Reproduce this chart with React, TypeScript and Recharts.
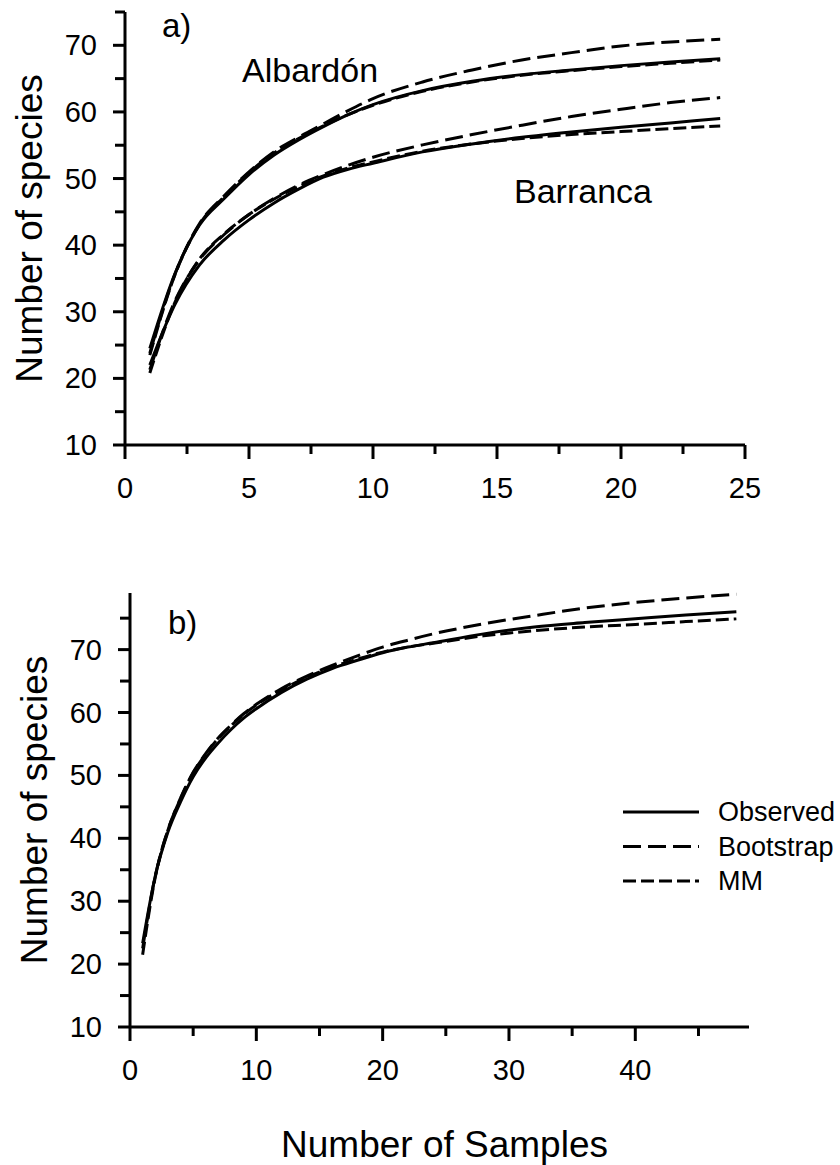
import React from "react";
import { LineChart, Line, XAxis, YAxis, Legend, Label } from "recharts";

// panel a) – two sites, samples 1..24
const samplesA = [1, 2, 3, 4, 5, 6, 7, 8, 9, 10, 12, 14, 16, 18, 20, 22, 24];
const albObserved = [24.5, 35.6, 43.0, 47.0, 50.6, 53.5, 55.8, 57.8, 59.6, 61.1, 63.2, 64.6, 65.6, 66.3, 66.95, 67.5, 68.0];
const albBootstrap = [23.8, 35.5, 43.2, 47.4, 51.0, 54.0, 56.2, 58.2, 60.2, 62.0, 64.5, 66.3, 67.8, 68.9, 69.9, 70.5, 70.9];
const albMM = [23.5, 35.4, 43.1, 47.3, 50.9, 53.8, 56.0, 57.9, 59.6, 61.0, 63.1, 64.5, 65.5, 66.2, 66.8, 67.3, 67.8];
const barObserved = [22.0, 31.0, 37.0, 40.8, 43.8, 46.3, 48.4, 50.2, 51.4, 52.3, 54.0, 55.2, 56.2, 57.0, 57.7, 58.35, 59.0];
const barBootstrap = [21.3, 31.5, 37.8, 41.6, 44.6, 47.0, 49.0, 50.6, 52.0, 53.2, 55.05, 56.6, 58.0, 59.3, 60.4, 61.4, 62.15];
const barMM = [20.8, 31.3, 37.9, 41.7, 44.6, 46.9, 48.8, 50.4, 51.6, 52.5, 54.1, 55.2, 56.0, 56.6, 57.05, 57.5, 57.9];

// panel b) – pooled, samples 1..48
const samplesB = [1, 2, 3, 4, 5, 6, 7, 8, 9, 10, 12, 14, 16, 18, 20, 22, 24, 28, 32, 36, 40, 44, 48];
const allObserved = [23.3, 34.0, 41.0, 45.8, 49.8, 52.8, 55.2, 57.3, 59.1, 60.6, 63.2, 65.3, 67.0, 68.3, 69.5, 70.4, 71.1, 72.5, 73.6, 74.3, 74.9, 75.5, 76.0];
const allBootstrap = [22.5, 34.0, 41.3, 46.4, 50.5, 53.5, 56.0, 58.0, 59.8, 61.3, 63.8, 65.8, 67.5, 69.0, 70.4, 71.5, 72.5, 74.1, 75.4, 76.6, 77.5, 78.2, 78.8];
const allMM = [21.5, 33.8, 41.3, 46.3, 50.4, 53.4, 55.9, 57.9, 59.7, 61.2, 63.6, 65.6, 67.2, 68.5, 69.6, 70.4, 71.0, 72.2, 73.0, 73.6, 74.0, 74.45, 74.9];

const yTicks = [10, 15, 20, 25, 30, 35, 40, 45, 50, 55, 60, 65, 70, 75];
const xTicksA = [0, 2.5, 5, 7.5, 10, 12.5, 15, 17.5, 20, 22.5, 25];
const xTicksB = [0, 5, 10, 15, 20, 25, 30, 35, 40, 45];

const FONT = "'Liberation Sans', Arial, Helvetica, sans-serif";
const OBS_DASH = undefined;
const BOOT_DASH = "18 7";
const MM_DASH = "13 5";

const legendItems = [
  { name: "Observed", dash: OBS_DASH },
  { name: "Bootstrap", dash: BOOT_DASH },
  { name: "MM", dash: MM_DASH },
];

const dataA = samplesA.map((s, i) => ({
  s,
  albObserved: albObserved[i],
  albBootstrap: albBootstrap[i],
  albMM: albMM[i],
  barObserved: barObserved[i],
  barBootstrap: barBootstrap[i],
  barMM: barMM[i],
}));

const dataB = samplesB.map((s, i) => ({
  s,
  observed: allObserved[i],
  bootstrap: allBootstrap[i],
  mm: allMM[i],
}));

const YTick = (props: any) => {
  const { x, y, payload } = props;
  const major = payload.value % 10 === 0;
  return (
    <g>
      <line x1={x - (major ? 12 : 10)} x2={x} y1={y} y2={y} stroke="#000" strokeWidth={3} />
      {major && (
        <text x={x - 28} y={y} textAnchor="end" dominantBaseline="central" fontSize={29} fontFamily={FONT} fill="#000">
          {payload.value}
        </text>
      )}
    </g>
  );
};

const makeXTick = (step: number) => (props: any) => {
  const { x, y, payload } = props;
  const major = payload.value % step === 0;
  return (
    <g>
      <line x1={x} x2={x} y1={y} y2={y + (major ? 14 : 9)} stroke="#000" strokeWidth={3} />
      {major && (
        <text x={x} y={y + 53} textAnchor="middle" fontSize={29} fontFamily={FONT} fill="#000">
          {payload.value}
        </text>
      )}
    </g>
  );
};

const YTitle = (props: any) => {
  const vb = props.viewBox;
  const x = vb.x - 23;
  const y = vb.y + vb.height / 2;
  return (
    <text x={x} y={y} transform={`rotate(-90 ${x} ${y})`} textAnchor="middle" fontSize={37} fontFamily={FONT} fill="#000">
      Number of species
    </text>
  );
};

const XTitle = (props: any) => {
  const vb = props.viewBox;
  const x = vb.x + vb.width / 2 + 5;
  return (
    <text x={x} y={vb.y + 130} textAnchor="middle" fontSize={37} fontFamily={FONT} fill="#000">
      Number of Samples
    </text>
  );
};

const LegendBox = () => (
  <svg width={220} height={110} style={{ display: "block" }}>
    {legendItems.map((it, i) => {
      const y = 17 + i * 34.5;
      return (
        <g key={it.name}>
          <line x1={3} x2={79} y1={y} y2={y} stroke="#000" strokeWidth={3} strokeDasharray={it.dash} />
          <text x={98} y={y} dominantBaseline="central" fontSize={27} fontFamily={FONT} fill="#000">
            {it.name}
          </text>
        </g>
      );
    })}
  </svg>
);

const axisLine = { stroke: "#000", strokeWidth: 3 };

export default function App() {
  return (
    <div style={{ position: "absolute", left: 0, top: 0, width: 840, height: 1165, background: "#fff", fontFamily: FONT }}>
      <div style={{ position: "absolute", left: 0, top: 0 }}>
        <LineChart width={840} height={520} data={dataA} margin={{ top: 12, right: 95, bottom: 30, left: 65 }}>
          <XAxis
            dataKey="s"
            type="number"
            domain={[0, 25]}
            ticks={xTicksA}
            interval={0}
            tick={makeXTick(5)}
            tickLine={false}
            tickSize={0}
            tickMargin={0}
            axisLine={axisLine}
            height={45}
          />
          <YAxis
            type="number"
            domain={[10, 75]}
            ticks={yTicks}
            interval={0}
            tick={YTick}
            tickLine={false}
            tickSize={0}
            tickMargin={0}
            axisLine={axisLine}
            width={60}
          >
            <Label content={YTitle} />
          </YAxis>
          <Line type="monotone" dataKey="albObserved" stroke="#000" strokeWidth={3} strokeDasharray={OBS_DASH} dot={false} isAnimationActive={false} />
          <Line type="monotone" dataKey="albBootstrap" stroke="#000" strokeWidth={3} strokeDasharray={BOOT_DASH} dot={false} isAnimationActive={false} />
          <Line type="monotone" dataKey="albMM" stroke="#000" strokeWidth={3} strokeDasharray={MM_DASH} dot={false} isAnimationActive={false} />
          <Line type="monotone" dataKey="barObserved" stroke="#000" strokeWidth={3} strokeDasharray={OBS_DASH} dot={false} isAnimationActive={false} />
          <Line type="monotone" dataKey="barBootstrap" stroke="#000" strokeWidth={3} strokeDasharray={BOOT_DASH} dot={false} isAnimationActive={false} />
          <Line type="monotone" dataKey="barMM" stroke="#000" strokeWidth={3} strokeDasharray={MM_DASH} dot={false} isAnimationActive={false} />
        </LineChart>
      </div>

      <div style={{ position: "absolute", left: 0, top: 560 }}>
        <LineChart width={840} height={605} data={dataB} margin={{ top: 33, right: 91, bottom: 93, left: 70 }}>
          <XAxis
            dataKey="s"
            type="number"
            domain={[0, 49]}
            ticks={xTicksB}
            interval={0}
            tick={makeXTick(10)}
            tickLine={false}
            tickSize={0}
            tickMargin={0}
            axisLine={axisLine}
            height={45}
          >
            <Label content={XTitle} />
          </XAxis>
          <YAxis
            type="number"
            domain={[10, 79]}
            ticks={yTicks}
            interval={0}
            tick={YTick}
            tickLine={false}
            tickSize={0}
            tickMargin={0}
            axisLine={axisLine}
            width={60}
          >
            <Label content={YTitle} />
          </YAxis>
          <Legend
            layout="vertical"
            align="center"
            verticalAlign="middle"
            content={LegendBox}
            wrapperStyle={{ left: 620, top: 235, width: 220, height: 110 }}
          />
          <Line type="monotone" dataKey="observed" name="Observed" stroke="#000" strokeWidth={3} dot={false} isAnimationActive={false} />
          <Line type="monotone" dataKey="bootstrap" name="Bootstrap" stroke="#000" strokeWidth={3} strokeDasharray={BOOT_DASH} dot={false} isAnimationActive={false} />
          <Line type="monotone" dataKey="mm" name="MM" stroke="#000" strokeWidth={3} strokeDasharray={MM_DASH} dot={false} isAnimationActive={false} />
        </LineChart>
      </div>

      <svg width={840} height={1165} style={{ position: "absolute", left: 0, top: 0, pointerEvents: "none" }}>
        <text x={162} y={37} fontSize={33} fontFamily={FONT} fill="#000">a)</text>
        <text x={242} y={82} fontSize={34} fontFamily={FONT} fill="#000">Albardón</text>
        <text x={514} y={203} fontSize={34} fontFamily={FONT} fill="#000">Barranca</text>
        <text x={168} y={634} fontSize={33} fontFamily={FONT} fill="#000">b)</text>
      </svg>
    </div>
  );
}
